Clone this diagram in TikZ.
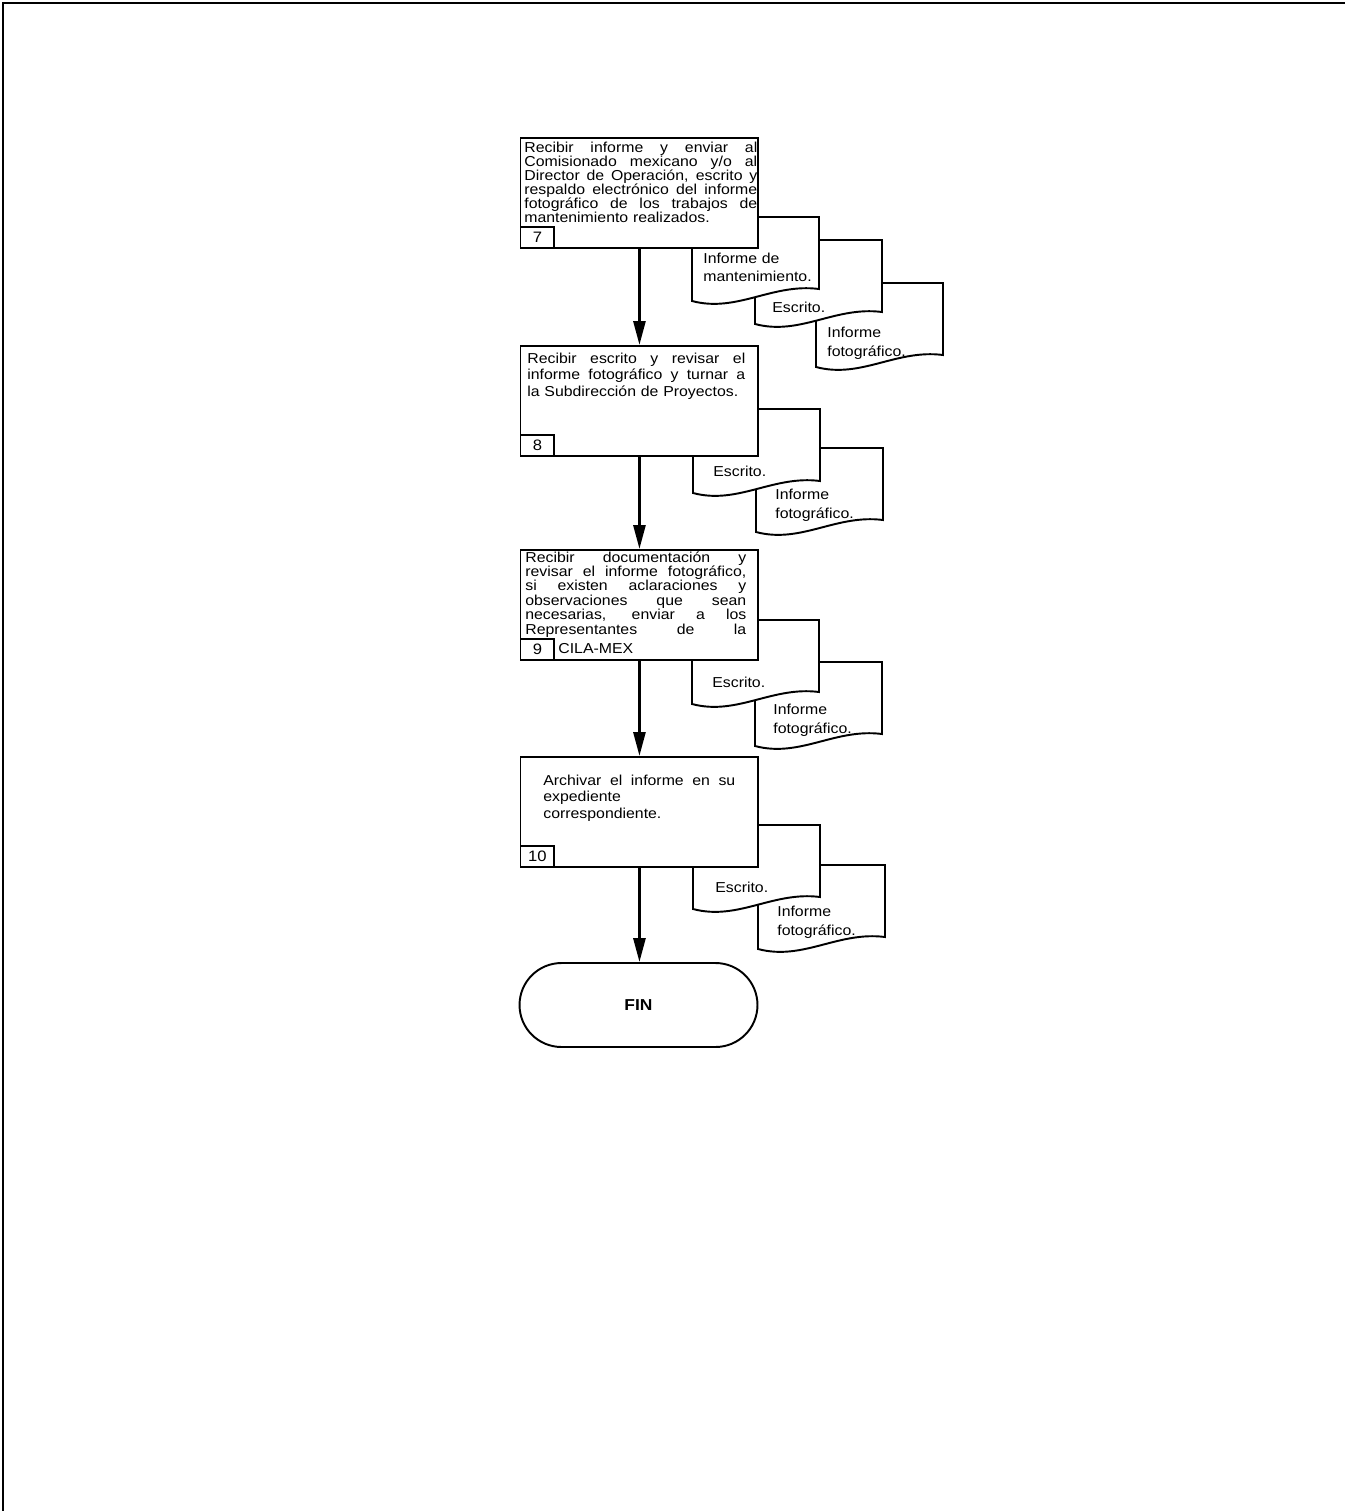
\documentclass[tikz,border=0pt]{standalone}
\usepackage{fontspec}
\setmainfont{Liberation Sans}[FakeStretch=1.1]
\usetikzlibrary{positioning,shapes.misc,arrows.meta}

\newcommand{\jl}[1]{{\spaceskip=\fontdimen2\font plus 1fil\makebox[\linewidth][s]{#1}}}
\newcommand{\docu}[3]{%
  \begin{scope}[shift={(#2,#3)}]
    \path[docpath] (0,0) coordinate (#1) -- (127,0) -- (127,72) .. controls (80,66) and (45,96) .. (0,84) -- cycle;
  \end{scope}}

\tikzset{
  stepbox/.style={draw, line width=1.1pt, fill=white, minimum width=4.76cm, minimum height=2.2cm, inner sep=0pt, anchor=north west},
  numbox/.style={draw, line width=1.1pt, fill=white, minimum width=0.68cm, minimum height=0.42cm, inner sep=0pt, anchor=south west, font=\fontsize{8.6}{9}\selectfont},
  steptext/.style={anchor=base west, inner sep=0pt, align=left, font={\fontsize{8.2}{#1}\selectfont\lineskiplimit=-10pt}},
  doctext/.style={anchor=base west, inner sep=0pt, align=left, text width=2.2cm, font={\fontsize{8.2}{10.8}\selectfont}},
  docpath/.style={draw, line width=1.1pt, fill=white},
  terminal/.style={draw, rounded rectangle, line width=1.1pt, minimum width=4.76cm, minimum height=1.68cm, inner sep=0pt, font=\fontsize{9}{10}\selectfont\bfseries},
  flow/.style={line width=1.6pt, -{Triangle[length=0.48cm,width=0.24cm]}}
}

\begin{document}
\begin{tikzpicture}[x=0.02cm,y=-0.02cm]
\useasboundingbox (0,0) rectangle (1345,1511);
\draw[line width=1.1pt] (3,1511) -- (3,3) -- (1345,3);

% documentos
\docu{d7c}{816}{283}
\node[doctext] (d7c-t) at (827,337.5) {Informe\\fotográfico.};
\docu{d7b}{755}{240}
\node[doctext] (d7b-t) at (772,312.5) {Escrito.};
\docu{d7a}{692}{217}
\node[doctext] (d7a-t) at (703,263) {Informe de\\mantenimiento.};

\docu{d8b}{756}{448}
\node[doctext] (d8b-t) at (775,499.5) {Informe\\fotográfico.};
\docu{d8a}{693}{409}
\node[doctext] (d8a-t) at (713,476.5) {Escrito.};

\docu{d9b}{755}{662}
\node[doctext] (d9b-t) at (773,714.5) {Informe\\fotográfico.};
\docu{d9a}{692}{620}
\node[doctext] (d9a-t) at (712,687.5) {Escrito.};

\docu{d10b}{758}{865}
\node[doctext] (d10b-t) at (777,916.5) {Informe\\fotográfico.};
\docu{d10a}{693}{825}
\node[doctext] (d10a-t) at (715,892.5) {Escrito.};

% actividades
\node[stepbox] (b7) at (519.5,137) {};
\node[steptext=8pt, text width=4.66cm] (t7) at (524,152.3) {\jl{Recibir informe y enviar al}\\ \jl{Comisionado mexicano y/o al}\\ \jl{Director de Operación, escrito y}\\ \jl{respaldo electrónico del informe}\\ \jl{fotográfico de los trabajos de}\\ mantenimiento realizados.};
\node[numbox] (n7) at (b7.south west) {7};

\node[stepbox] (b8) at (519.5,345) {};
\node[steptext=9.5pt, text width=4.36cm] (t8) at (527,363.3) {\jl{Recibir escrito y revisar el}\\ \jl{informe fotográfico y turnar a}\\ la Subdirección de Proyectos.};
\node[numbox] (n8) at (b8.south west) {8};

\node[stepbox] (b9) at (519.5,549) {};
\node[steptext=8.2pt, text width=4.42cm] (t9) at (525,562) {\jl{Recibir documentación y}\\ \jl{revisar el informe fotográfico,}\\ \jl{si existen aclaraciones y}\\ \jl{observaciones que sean}\\ \jl{necesarias, enviar a los}\\ \jl{Representantes de la}};
\node[numbox] (n9) at (b9.south west) {9};
\node[steptext=9pt] (c9) at (558,653) {CILA-MEX};

\node[stepbox] (b10) at (519.5,756) {};
\node[steptext=9.5pt, text width=3.84cm] (t10) at (543,785) {\jl{Archivar el informe en su}\\ expediente\\ correspondiente.};
\node[numbox] (n10) at (b10.south west) {10};

\node[terminal] (fin) at (638.5,1005) {FIN};

\draw[flow] (b7.south) -- (b8.north);
\draw[flow] (b8.south) -- (b9.north);
\draw[flow] (b9.south) -- (b10.north);
\draw[flow] (b10.south) -- (b10.south |- fin.north);
\end{tikzpicture}
\end{document}
